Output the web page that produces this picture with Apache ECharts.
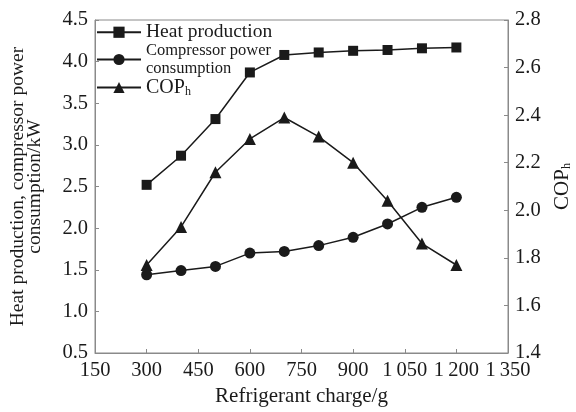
<!DOCTYPE html>
<html>
<head>
<meta charset="utf-8">
<script src="https://cdn.jsdelivr.net/npm/echarts@6/dist/echarts.min.js"></script>
<style>
html,body{margin:0;padding:0;background:#fff;}
#c{width:576px;height:412px;}
</style>
</head>
<body>
<div id="c"></div>
<script>
const charge = [300, 400, 500, 600, 700, 800, 900, 1000, 1100, 1200];
const heatProduction = [2.52, 2.87, 3.31, 3.87, 4.08, 4.11, 4.13, 4.14, 4.16, 4.17];
const compressorPower = [1.44, 1.49, 1.54, 1.70, 1.72, 1.79, 1.89, 2.05, 2.25, 2.37];
const copH = [1.77, 1.93, 2.16, 2.30, 2.39, 2.31, 2.20, 2.04, 1.86, 1.77];
const seriesNames = ['Heat production', 'Compressor power\nconsumption', 'COP_h'];
const xTicks = {min: 150, max: 1350, interval: 150};
const yLeftTicks = {min: 0.5, max: 4.5, interval: 0.5};
const yRightTicks = {min: 1.4, max: 2.8, interval: 0.2};

const FONT = '"Liberation Serif", "Times New Roman", serif';
const AXIS_COLOR = '#8a8a8a';
const INK = '#1a1a1a';

function pairs(ys){ return charge.map((x,i)=>[x, ys[i]]); }

const chart = echarts.init(document.getElementById('c'), null, {renderer:'canvas'});

const subRich = {
  s: {fontSize: 12, fontFamily: FONT, color: INK, verticalAlign: 'bottom', padding: [10,0,0,0]}
};

function legendFor(name, top, fontSize){
  return {
    data: [name],
    left: 96, top: top, padding: 0,
    orient: 'vertical',
    itemWidth: 44, itemHeight: 14, itemGap: 6,
    selectedMode: false,
    formatter: n => n === 'COP_h' ? 'COP{s|h}' : n,
    textStyle: {fontFamily: FONT, fontSize: fontSize, color: INK, lineHeight: fontSize + 1, rich: subRich}
  };
}

const axisCommon = {
  axisLine: {show: true, lineStyle: {color: AXIS_COLOR, width: 1}},
  axisTick: {show: true, inside: true, length: 4, lineStyle: {color: AXIS_COLOR}},
  splitLine: {show: false},
  axisLabel: {fontFamily: FONT, fontSize: 20.5, color: INK}
};

chart.setOption({
  animation: false,
  backgroundColor: '#fff',
  grid: {left: 95, right: 68, top: 20, bottom: 59, containLabel: false, outerBoundsMode: 'none',
         show: true, borderColor: AXIS_COLOR, borderWidth: 1, backgroundColor: 'transparent'},
  legend: [
    legendFor(seriesNames[0], 22, 19.5),
    legendFor(seriesNames[1], 42, 16.5),
    legendFor(seriesNames[2], 77, 20)
  ],
  xAxis: Object.assign({}, axisCommon, {
    type: 'value', min: xTicks.min, max: xTicks.max, interval: xTicks.interval,
    name: 'Refrigerant charge/g', nameLocation: 'middle', nameGap: 32,
    nameTextStyle: {fontFamily: FONT, fontSize: 21, color: INK},
    axisLabel: Object.assign({}, axisCommon.axisLabel, {
      margin: 7,
      formatter: v => v >= 1000 ? Math.floor(v/1000) + '\u2009' + String(v % 1000).padStart(3,'0') : String(v)
    })
  }),
  yAxis: [
    Object.assign({}, axisCommon, {
      type: 'value', position: 'left', min: yLeftTicks.min, max: yLeftTicks.max, interval: yLeftTicks.interval,
      name: 'Heat production, compressor power\nconsumption/kW', nameLocation: 'middle', nameGap: 52,
      nameTextStyle: {fontFamily: FONT, fontSize: 19.5, color: INK, lineHeight: 17},
      axisLabel: Object.assign({}, axisCommon.axisLabel, {margin: 7, formatter: v => v.toFixed(1)})
    }),
    Object.assign({}, axisCommon, {
      type: 'value', position: 'right', min: yRightTicks.min, max: yRightTicks.max, interval: yRightTicks.interval,
      name: 'COP{s|h}', nameLocation: 'middle', nameGap: 42,
      nameTextStyle: {fontFamily: FONT, fontSize: 21, color: INK, rich: subRich},
      axisLabel: Object.assign({}, axisCommon.axisLabel, {margin: 7, formatter: v => v.toFixed(1)})
    })
  ],
  series: [
    {
      name: seriesNames[0], type: 'line', yAxisIndex: 0, data: pairs(heatProduction),
      symbol: 'rect', symbolSize: 10,
      lineStyle: {color: INK, width: 1.5}, itemStyle: {color: INK}
    },
    {
      name: seriesNames[1], type: 'line', yAxisIndex: 0, data: pairs(compressorPower),
      symbol: 'circle', symbolSize: 11,
      lineStyle: {color: INK, width: 1.5}, itemStyle: {color: INK}
    },
    {
      name: seriesNames[2], type: 'line', yAxisIndex: 1, data: pairs(copH),
      symbol: 'triangle', symbolSize: 12,
      lineStyle: {color: INK, width: 1.5}, itemStyle: {color: INK}
    }
  ]
});
</script>
</body>
</html>
